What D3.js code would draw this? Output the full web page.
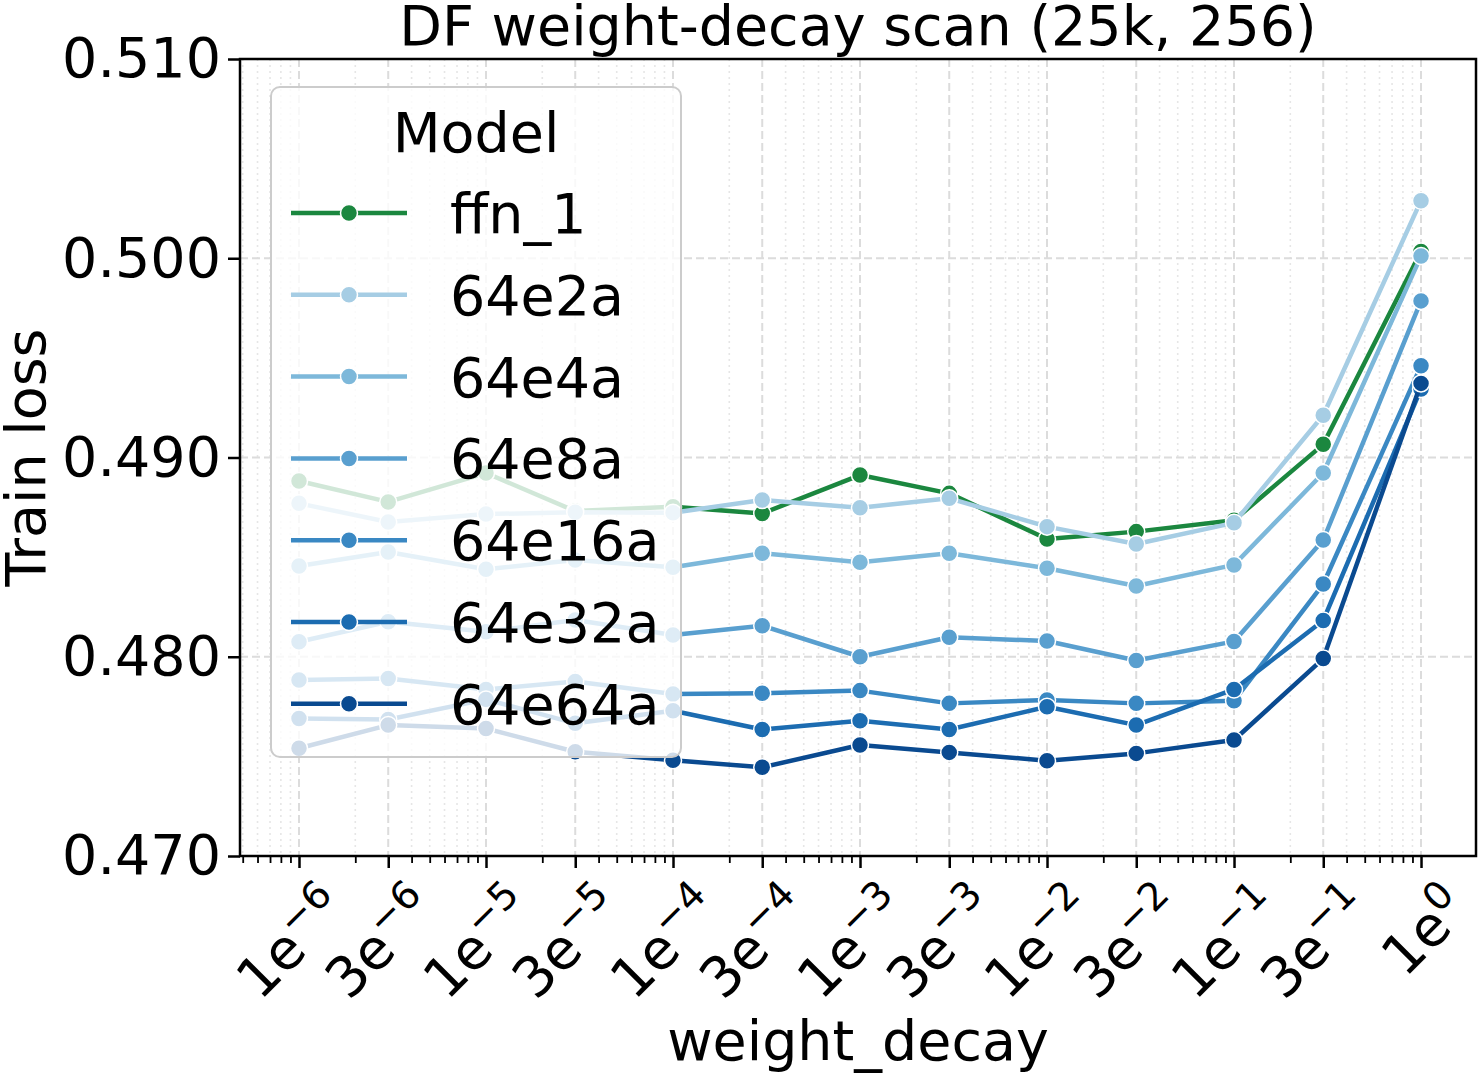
<!DOCTYPE html>
<html>
<head>
<meta charset="utf-8">
<script src="https://cdn.jsdelivr.net/npm/d3@7"></script>
<style>
  body { margin: 0; background: #fff; }
  svg, svg text { font-family: "DejaVu Sans", sans-serif; }
</style>
</head>
<body>
<svg id="chart" width="1478" height="1074"></svg>
<script>
// weight decay values and their tick labels (mantissa, exponent)
const weightDecay = [1e-6, 3e-6, 1e-5, 3e-5, 1e-4, 3e-4, 1e-3, 3e-3, 1e-2, 3e-2, 1e-1, 3e-1, 1];
const tickMantissa = ["1", "3", "1", "3", "1", "3", "1", "3", "1", "3", "1", "3", "1"];
const tickExponent = ["\u22126", "\u22126", "\u22125", "\u22125", "\u22124", "\u22124", "\u22123", "\u22123", "\u22122", "\u22122", "\u22121", "\u22121", "0"];
const yTicks = [0.470, 0.480, 0.490, 0.500, 0.510];

const models = ["ffn_1", "64e2a", "64e4a", "64e8a", "64e16a", "64e32a", "64e64a"];
const colors = ["#1b873f", "#a6cde4", "#7db8da", "#599fcf", "#3a88c3", "#1c6cb1", "#0a4a90"];

const ffn_1  = [0.48882, 0.48777, 0.48922, 0.48731, 0.48753, 0.48719, 0.48912, 0.48820, 0.48591, 0.48628, 0.48685, 0.49066, 0.50034];
const e2a    = [0.48770, 0.48676, 0.48716, 0.48725, 0.48723, 0.48787, 0.48748, 0.48795, 0.48653, 0.48566, 0.48672, 0.49212, 0.50289];
const e4a    = [0.48455, 0.48526, 0.48439, 0.48486, 0.48449, 0.48519, 0.48474, 0.48519, 0.48444, 0.48355, 0.48461, 0.48922, 0.50011];
const e8a    = [0.48075, 0.48176, 0.48125, 0.48184, 0.48109, 0.48156, 0.48000, 0.48098, 0.48079, 0.47981, 0.48077, 0.48586, 0.49786];
const e16a   = [0.47883, 0.47891, 0.47836, 0.47876, 0.47813, 0.47817, 0.47830, 0.47766, 0.47783, 0.47766, 0.47779, 0.48365, 0.49460];
const e32a   = [0.47690, 0.47685, 0.47786, 0.47666, 0.47729, 0.47635, 0.47679, 0.47635, 0.47749, 0.47657, 0.47836, 0.48182, 0.49344];
const e64a   = [0.47541, 0.47657, 0.47640, 0.47523, 0.47481, 0.47445, 0.47557, 0.47520, 0.47478, 0.47515, 0.47582, 0.47991, 0.49372];
const seriesValues = [ffn_1, e2a, e4a, e8a, e16a, e32a, e64a];

const margin = { top: 59, right: 2, bottom: 218, left: 240 };
const W = 1478, H = 1074;
const width = W - margin.left - margin.right;
const height = H - margin.top - margin.bottom;
const FS = 55.5;
const FONT = "DejaVu Sans";

const svg = d3.select("#chart");
const g = svg.append("g").attr("transform", `translate(${margin.left},${margin.top})`);

const x = d3.scaleLog().domain([Math.pow(10, -6.3155), Math.pow(10, 0.294)]).range([0, width]);
const y = d3.scaleLinear().domain([0.470, 0.510]).range([height, 0]);

// minor log ticks (2..9 x 10^k, skipping 3 which is a labelled tick)
const minorTicks = [];
for (let k = -7; k <= 0; k++) {
  for (const m of [2, 4, 5, 6, 7, 8, 9]) {
    const v = m * Math.pow(10, k);
    if (v >= x.domain()[0] && v <= x.domain()[1]) minorTicks.push(v);
  }
}

// grids
g.append("g")
  .selectAll("line")
  .data(minorTicks)
  .join("line")
  .attr("x1", d => x(d)).attr("x2", d => x(d))
  .attr("y1", 0).attr("y2", height)
  .attr("stroke", "#e6e6e6").attr("stroke-width", 1.6).attr("stroke-dasharray", "2,4");

g.append("g")
  .selectAll("line")
  .data(weightDecay)
  .join("line")
  .attr("x1", d => x(d)).attr("x2", d => x(d))
  .attr("y1", 0).attr("y2", height)
  .attr("stroke", "#dcdcdc").attr("stroke-width", 2).attr("stroke-dasharray", "8,4");

g.append("g")
  .selectAll("line")
  .data(yTicks)
  .join("line")
  .attr("x1", 0).attr("x2", width)
  .attr("y1", d => y(d)).attr("y2", d => y(d))
  .attr("stroke", "#dcdcdc").attr("stroke-width", 2).attr("stroke-dasharray", "8,4");

// lines + markers
const line = d3.line().x((d, i) => x(weightDecay[i])).y(d => y(d));
seriesValues.forEach((vals, si) => {
  const s = g.append("g");
  s.append("path")
    .datum(vals)
    .attr("d", line)
    .attr("fill", "none")
    .attr("stroke", colors[si])
    .attr("stroke-width", 4.5)
    .attr("stroke-linejoin", "round");
  s.selectAll("circle")
    .data(vals)
    .join("circle")
    .attr("cx", (d, i) => x(weightDecay[i]))
    .attr("cy", d => y(d))
    .attr("r", 8.5)
    .attr("fill", colors[si])
    .attr("stroke", "#fff")
    .attr("stroke-width", 1.5);
});

// axes
const xAxis = g.append("g")
  .attr("transform", `translate(0,${height})`)
  .call(d3.axisBottom(x).tickValues(weightDecay).tickSize(12).tickFormat(""));
xAxis.select(".domain").remove();
xAxis.selectAll(".tick line").attr("stroke-width", 2.5);

const xMinor = g.append("g")
  .attr("transform", `translate(0,${height})`)
  .call(d3.axisBottom(x).tickValues(minorTicks).tickSize(7).tickFormat(""));
xMinor.select(".domain").remove();
xMinor.selectAll(".tick line").attr("stroke-width", 1.8);

xAxis.selectAll(".tick").each(function (d, i) {
  const t = d3.select(this).append("text")
    .attr("fill", "#000")
    .attr("text-anchor", "end")
    .attr("font-family", FONT)
    .attr("font-size", FS)
    .attr("transform", "translate(50,56) rotate(-45)");
  t.append("tspan").text(tickMantissa[i] + "e");
  t.append("tspan").attr("dy", -22).attr("font-size", FS * 0.7).text(tickExponent[i]);
});

const yAxis = g.append("g")
  .call(d3.axisLeft(y).tickValues(yTicks).tickSize(12).tickPadding(7).tickFormat(d3.format(".3f")));
yAxis.select(".domain").remove();
yAxis.selectAll(".tick line").attr("stroke-width", 2.5);
yAxis.selectAll(".tick text").attr("font-size", FS).attr("font-family", FONT).attr("fill", "#000");

// frame
g.append("rect")
  .attr("width", width).attr("height", height)
  .attr("fill", "none").attr("stroke", "#000").attr("stroke-width", 2.5);

// labels
svg.append("text")
  .attr("x", margin.left + width / 2).attr("y", 45)
  .attr("text-anchor", "middle").attr("font-size", FS)
  .text("DF weight-decay scan (25k, 256)");

svg.append("text")
  .attr("x", margin.left + width / 2).attr("y", 1060)
  .attr("text-anchor", "middle").attr("font-size", FS)
  .text("weight_decay");

svg.append("text")
  .attr("transform", `translate(45,${margin.top + height / 2}) rotate(-90)`)
  .attr("text-anchor", "middle").attr("font-size", FS)
  .text("Train loss");

// legend
const legend = svg.append("g").attr("transform", "translate(271,87)");
legend.append("rect")
  .attr("width", 410).attr("height", 670)
  .attr("rx", 9)
  .attr("fill", "#fff").attr("fill-opacity", 0.8)
  .attr("stroke", "#cccccc").attr("stroke-width", 2);
legend.append("text")
  .attr("x", 205).attr("y", 65)
  .attr("text-anchor", "middle").attr("font-size", FS)
  .text("Model");
models.forEach((m, i) => {
  const row = legend.append("g").attr("transform", `translate(0,${126 + i * 81.8})`);
  row.append("line")
    .attr("x1", 20).attr("x2", 136)
    .attr("stroke", colors[i]).attr("stroke-width", 4.5);
  row.append("circle")
    .attr("cx", 78).attr("r", 8.5)
    .attr("fill", colors[i]).attr("stroke", "#fff").attr("stroke-width", 1.5);
  row.append("text")
    .attr("x", 179).attr("y", 20)
    .attr("font-size", FS)
    .text(m);
});
</script>
</body>
</html>
